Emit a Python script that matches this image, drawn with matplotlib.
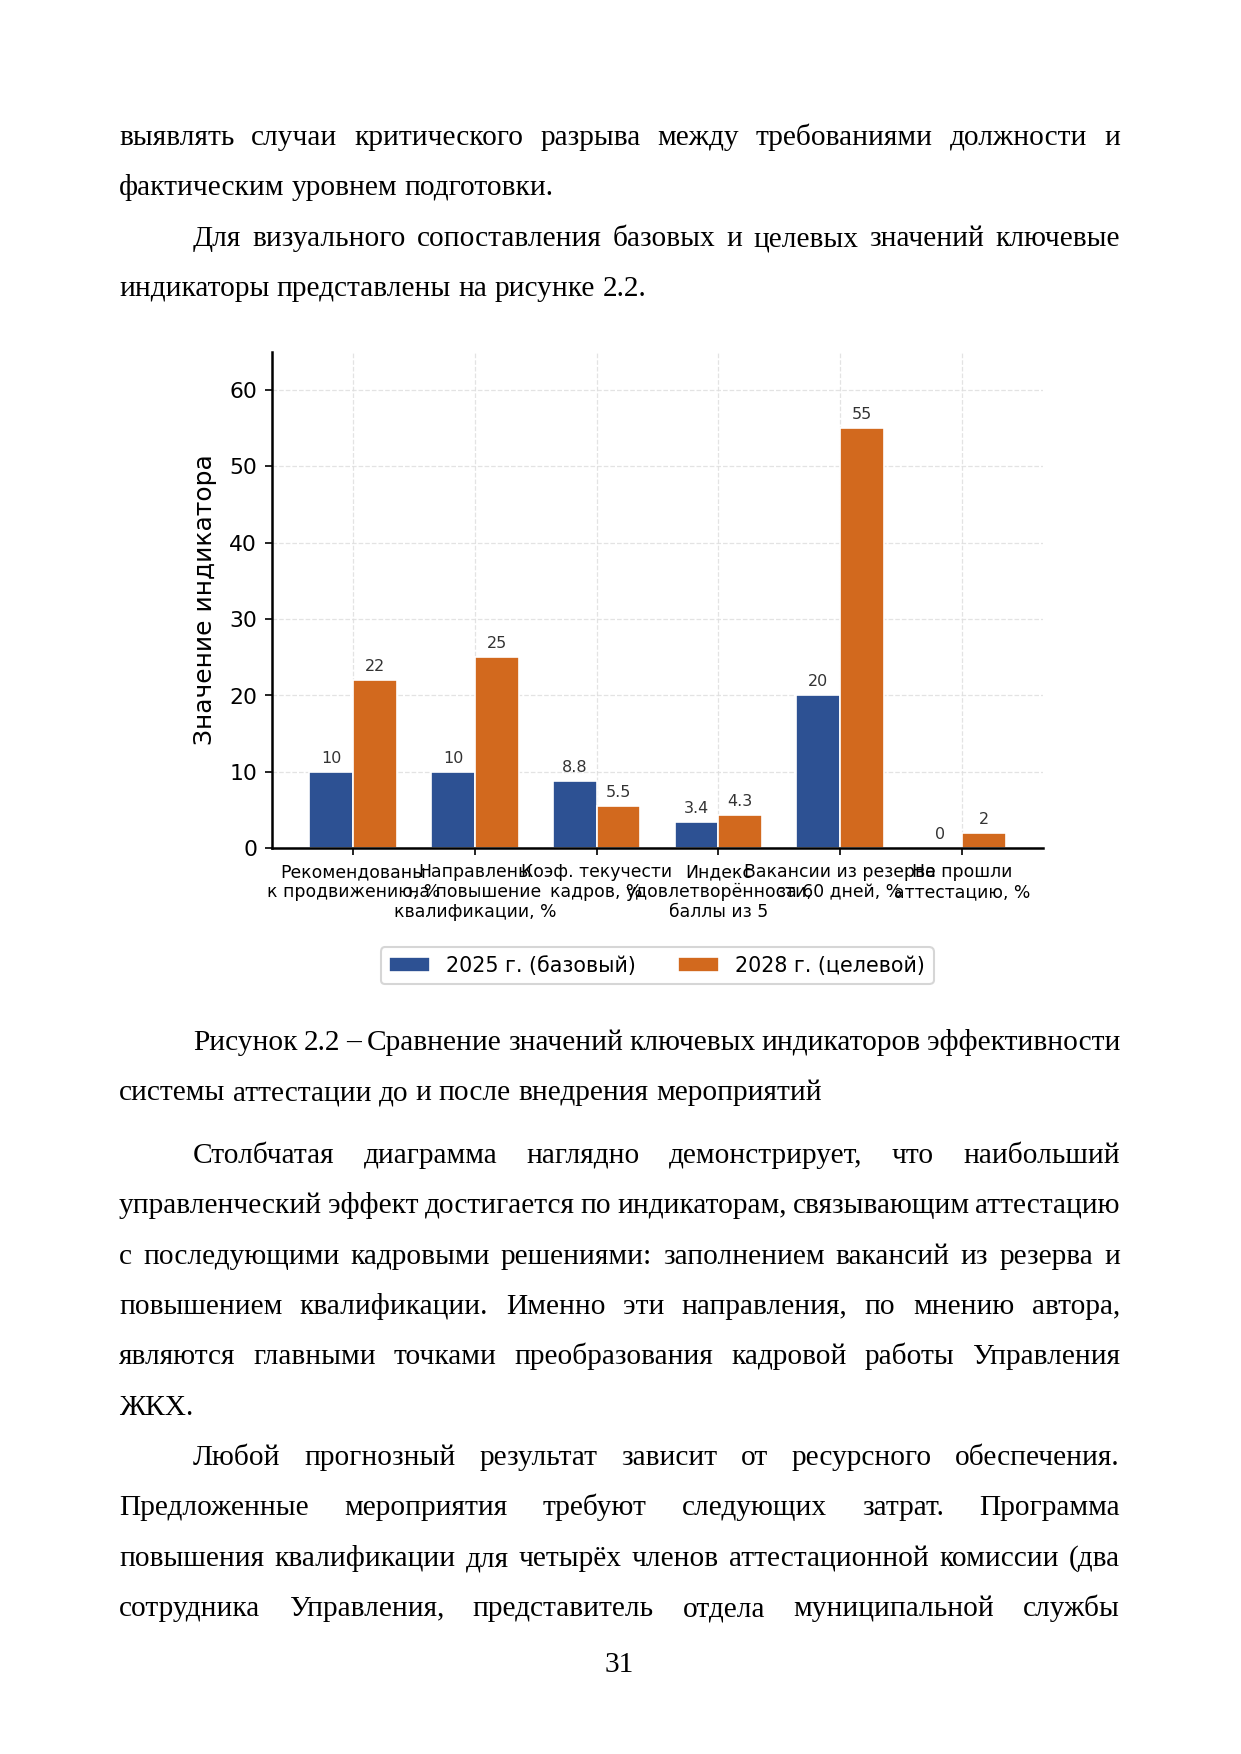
import numpy as np
import matplotlib
matplotlib.use("Agg")
import matplotlib.pyplot as plt

# --- chart data ---
categories = [
    "Рекомендованы\nк продвижению, %",
    "Направлены\nна повышение\nквалификации, %",
    "Коэф. текучести\nкадров, %",
    "Индекс\nудовлетворённости,\nбаллы из 5",
    "Вакансии из резерва\nза 60 дней, %",
    "Не прошли\nаттестацию, %",
]
base_2025 = [10, 10, 8.8, 3.4, 20, 0]
target_2028 = [22, 25, 5.5, 4.3, 55, 2]
series_names = ["2025 г. (базовый)", "2028 г. (целевой)"]

# --- page text ---
para1 = ["выявлять случаи критического разрыва между требованиями должности и",
         "фактическим уровнем подготовки."]
para2 = ["Для визуального сопоставления базовых и целевых значений ключевые",
         "индикаторы представлены на рисунке 2.2."]
caption = ["Рисунок 2.2 – Сравнение значений ключевых индикаторов эффективности",
           "системы аттестации до и после внедрения мероприятий"]
para3 = ["Столбчатая диаграмма наглядно демонстрирует, что наибольший",
         "управленческий эффект достигается по индикаторам, связывающим аттестацию",
         "с последующими кадровыми решениями: заполнением вакансий из резерва и",
         "повышением квалификации. Именно эти направления, по мнению автора,",
         "являются главными точками преобразования кадровой работы Управления",
         "ЖКХ."]
para4 = ["Любой прогнозный результат зависит от ресурсного обеспечения.",
         "Предложенные мероприятия требуют следующих затрат. Программа",
         "повышения квалификации для четырёх членов аттестационной комиссии (два",
         "сотрудника Управления, представитель отдела муниципальной службы"]
page_number = "31"

W, H = 1241, 1754
DPI = 150
fig = plt.figure(figsize=(W / DPI, H / DPI), dpi=DPI)
fig.patch.set_facecolor("white")
renderer = fig.canvas.get_renderer()

SERIF = "Liberation Serif"
BODY_SIZE = 14.1
LEFT, RIGHT, INDENT = 119, 1120, 193
STEP = 50.35


def text_width(s):
    t = fig.text(0, 0, s, fontsize=BODY_SIZE, family=SERIF)
    w = t.get_window_extent(renderer).width
    t.remove()
    return w


SPACE = text_width("а а") - text_width("аа")


def put_line(line, x0, y, justify):
    words = line.split()
    widths = [text_width(w) for w in words]
    if justify and len(words) > 1:
        gap = (RIGHT - x0 - sum(widths)) / (len(words) - 1)
    else:
        gap = SPACE
    y = round(y)
    x = x0
    for w, wd in zip(words, widths):
        fig.text(x / W, 1 - y / H, w, fontsize=BODY_SIZE, family=SERIF,
                 ha="left", va="baseline", color="black")
        x += wd + gap


def put_paragraph(lines, y0, indent=True, last_justified=False):
    y = y0
    for i, line in enumerate(lines):
        x0 = INDENT if (indent and i == 0) else LEFT
        last = i == len(lines) - 1
        put_line(line, x0, y, justify=(not last) or last_justified)
        y += STEP
    return y


put_paragraph(para1, 145, indent=False)
put_paragraph(para2, 145 + 2 * STEP)
put_paragraph(caption, 1050)
put_paragraph(para3, 1050 + STEP + 62.5)
put_paragraph(para4, 1050 + 6 * STEP + 62.5 + 50.5, last_justified=True)
fig.text(619 / W, 1 - 1672 / H, page_number, fontsize=BODY_SIZE, family=SERIF,
         ha="center", va="baseline")

# --- chart ---
ax = fig.add_axes([271.7 / W, 1 - 848.3 / H, 771.6 / W, 496.6 / H])
x = np.arange(len(categories))
width = 0.36
blue = "#2d5193"
orange = "#d2691e"
b1 = ax.bar(x - width / 2, base_2025, width, color=blue, edgecolor="white",
            linewidth=0.8, label=series_names[0], zorder=3)
b2 = ax.bar(x + width / 2, target_2028, width, color=orange, edgecolor="white",
            linewidth=0.8, label=series_names[1], zorder=3)
for bars in (b1, b2):
    ax.bar_label(bars, labels=[f"{v:g}" for v in bars.datavalues],
                 padding=3, fontsize=7.7, color="#333333")

ax.set_xlim(-0.67, 5.67)
ax.set_ylim(0, 65)
ax.set_yticks(range(0, 61, 10))
ax.set_xticks(x)
ax.set_xticklabels(categories, fontsize=8.3, ha="center", linespacing=1.15)
ax.tick_params(axis="y", labelsize=10.5)
ax.set_ylabel("Значение индикатора", fontsize=12, labelpad=6)
ax.grid(True, linestyle="--", linewidth=0.6, color="#dddddd", alpha=0.8)
ax.set_axisbelow(True)
ax.spines["top"].set_visible(False)
ax.spines["right"].set_visible(False)
ax.spines["left"].set_linewidth(1.2)
ax.spines["bottom"].set_linewidth(1.2)
ax.spines["bottom"].set_zorder(4)

fig.legend(handles=[b1, b2], labels=series_names, loc="center", ncol=2,
           fontsize=9.9, bbox_to_anchor=(657 / W, 1 - 965.7 / H), frameon=True)

fig.savefig("out.png", dpi=DPI, facecolor="white")
